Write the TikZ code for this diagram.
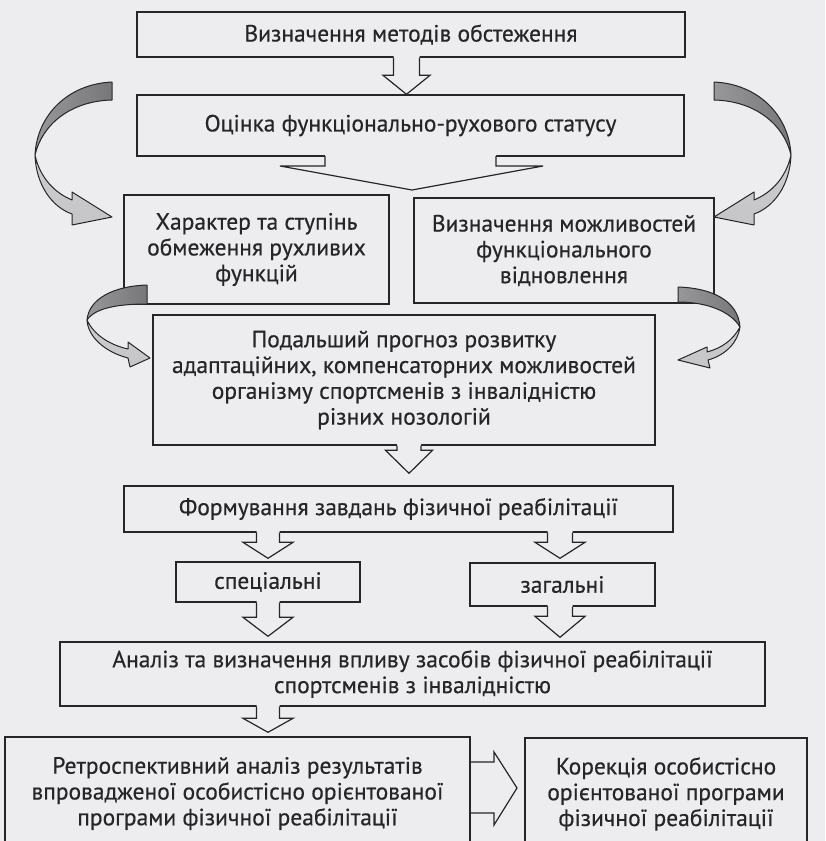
\documentclass[tikz,border=0pt]{standalone}
\usepackage{fontspec}
\setmainfont{PT Sans}[FakeBold=0.45]
\usetikzlibrary{calc}
\definecolor{paper}{RGB}{237,237,239}
\definecolor{ink}{RGB}{38,38,40}
\definecolor{bandD}{RGB}{140,140,142}
\definecolor{bandL}{RGB}{205,205,207}

% hollow block arrow pointing down, from node #1 to node #2 at x=#3
% #4 half shaft width, #5 half head width, #6 head length, #7 gap above target
\newcommand\blockdown[7]{%
  \fill[paper] let \p1=(#1.south), \p2=(#2.north) in
    (#3pt-#4pt,\y1+1.5pt) -- (#3pt-#4pt,\y2+#7pt+#6pt) -- (#3pt-#5pt,\y2+#7pt+#6pt)
    -- (#3pt,\y2+#7pt) -- (#3pt+#5pt,\y2+#7pt+#6pt) -- (#3pt+#4pt,\y2+#7pt+#6pt)
    -- (#3pt+#4pt,\y1+1.5pt) -- cycle;
  \draw[arrowline] let \p1=(#1.south), \p2=(#2.north) in
    (#3pt-#4pt,\y1) -- (#3pt-#4pt,\y2+#7pt+#6pt) -- (#3pt-#5pt,\y2+#7pt+#6pt)
    -- (#3pt,\y2+#7pt) -- (#3pt+#5pt,\y2+#7pt+#6pt) -- (#3pt+#4pt,\y2+#7pt+#6pt)
    -- (#3pt+#4pt,\y1);
}

% curved ribbon arrow: dark back band, then light front band with head
\newcommand\ribbon[2]{%
  \shade[left color=bandD!90!white, right color=bandD!85!black] #1;
  \draw[bandline] #1;
  \shade[top color=bandL, bottom color=bandL!88!bandD] #2;
  \draw[bandline] #2;
}

\begin{document}
\begin{tikzpicture}[x=1pt,y=-1pt,
  box/.style={draw=ink, line width=1.4pt, align=center, inner sep=0pt,
    text=ink, font=\fontsize{23.5}{25.8}\selectfont},
  arrowline/.style={draw=ink, line width=1.2pt, line join=miter},
  bandline/.style={draw=ink, line width=1pt, line join=round}]

\fill[paper] (0,0) rectangle (825,841);
\useasboundingbox (0,0) rectangle (825,841);
\clip (0,0) rectangle (825,841);

% boxes
\node[box, minimum width=548pt, minimum height=45pt] (m1) at (411,34.5)
  {Визначення методів обстеження};
\node[box, minimum width=547pt, minimum height=61pt] (m2) at (410.5,125.5)
  {Оцінка функціонально-рухового статусу};
\node[box, minimum width=265pt, minimum height=109pt] (m3) at (256.5,249.5)
  {Характер та ступінь\\обмеження рухливих\\функцій};
\node[box, minimum width=300pt, minimum height=105pt] (m4) at (564,250.5)
  {Визначення можливостей\\функціонального\\відновлення};
\node[box, minimum width=502pt, minimum height=130pt] (m5) at (404,380)
  {Подальший прогноз розвитку\\адаптаційних, компенсаторних можливостей\\організму спортсменів з інвалідністю\\різних нозологій};
\node[box, minimum width=549pt, minimum height=46pt] (m6) at (398.5,509)
  {Формування завдань фізичної реабілітації};
\node[box, minimum width=184pt, minimum height=40pt] (sp) at (268,582)
  {спеціальні};
\node[box, minimum width=185pt, minimum height=43pt] (zg) at (562.5,584.5)
  {загальні};
\node[box, minimum width=705pt, minimum height=64pt] (m7) at (412.5,674)
  {Аналіз та визначення впливу засобів фізичної реабілітації\\спортсменів з інвалідністю};
\node[box, minimum width=465pt, minimum height=113pt] (m8) at (237.5,793.5)
  {Ретроспективний аналіз результатів\\впровадженої особистісно орієнтованої\\програми фізичної реабілітації};
\node[box, minimum width=282pt, minimum height=112pt] (m9) at (666,794)
  {Корекція особистісно\\орієнтованої програми\\фізичної реабілітації};

% block arrows
\blockdown{m1}{m2}{406.5}{13}{23.5}{19}{0}
\blockdown{m5}{m6}{409}{12}{23.5}{23}{12}
\blockdown{m6}{sp}{268}{11.5}{25}{16}{3}
\blockdown{sp}{m7}{268}{11.5}{25}{19}{5}
\blockdown{m6}{zg}{560}{12.5}{25}{16}{4}
\blockdown{zg}{m7}{560}{12.5}{25}{21}{4}
\blockdown{m7}{m8}{268}{11.5}{25}{14}{4}

% split arrow from m2 towards m3 and m4
\coordinate (split) at (412,190);
\fill[paper] (325,154.5) -- (325,166) -- (280,166) -- (split) -- (543,166)
  -- (496,166) -- (496,154.5) -- cycle;
\draw[arrowline] (325,156) -- (325,166) -- (280,166) -- (split) -- (543,166)
  -- (496,166) -- (496,156);

% arrow from m8 to m9
\coordinate (rtip) at (517,788);
\draw[arrowline] (m8.east |- 0,762) -- (494,762) -- (494,752) -- (rtip)
  -- (494,825) -- (494,813) -- (m8.east |- 0,813);

% curved arrows, left side
\ribbon{(112,82) .. controls (68,84) and (37,115) .. (35,155)
     .. controls (42,125) and (70,101) .. (112,100) -- cycle}
  {(35,155) .. controls (36,185) and (52,207) .. (72,214)
     -- (72,225) -- (112,217) -- (72,192) -- (72,200)
     .. controls (55,193) and (40,178) .. (35,155) -- cycle}
\ribbon{(147,285) .. controls (115,286) and (89,298) .. (87,320)
     .. controls (95,308) and (118,304) .. (147,304) -- cycle}
  {(87,320) .. controls (88,337) and (105,352) .. (128,358)
     -- (130,367) -- (150,358) -- (128,342) -- (128,349)
     .. controls (110,345) and (94,335) .. (87,320) -- cycle}

% curved arrows, right side (mirror image)
\begin{scope}[xshift=826pt, xscale=-1]
\ribbon{(112,82) .. controls (68,84) and (37,115) .. (35,155)
     .. controls (42,125) and (70,101) .. (112,100) -- cycle}
  {(35,155) .. controls (36,185) and (52,207) .. (72,214)
     -- (72,225) -- (112,217) -- (72,192) -- (72,200)
     .. controls (55,193) and (40,178) .. (35,155) -- cycle}
\ribbon{(148,287) .. controls (115,288) and (88,300) .. (86,327)
     .. controls (95,312) and (118,302) .. (148,302) -- cycle}
  {(86,327) .. controls (88,342) and (100,355) .. (118,360)
     -- (116,368) -- (148,360) -- (119,347) -- (119,352)
     .. controls (104,348) and (93,340) .. (86,327) -- cycle}
\end{scope}
\end{tikzpicture}
\end{document}
